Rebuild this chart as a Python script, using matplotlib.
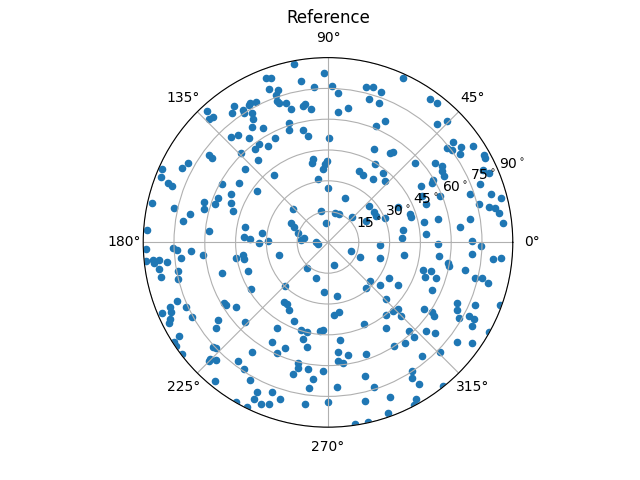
import numpy as np
import matplotlib
matplotlib.use('Agg')
import matplotlib.pyplot as plt
from matplotlib.ticker import FuncFormatter

# Point positions: angle (degrees) and radial distance (degrees)
theta_deg = [110.7, 132.7, 124.4, 132.6, 134.0, 126.4, 122.8, 123.1, 119.3, 117.2,
             120.0, 120.5, 121.4, 123.5, 119.7, 132.7, 129.8, 127.2, 125.2, 128.1,
             134.4, 143.8, 143.9, 130.5, 150.4, 153.0, 138.7, 156.1, 158.6,
             100.8, 91.4, 109.2, 99.5, 95.2, 88.5, 86.2, 111.1, 108.2, 109.5,
             109.9, 109.4, 106.8, 105.5, 100.4, 99.5, 97.3, 76.2, 73.8, 70.5,
             74.0, 69.9, 85.6, 81.5, 108.1, 109.2, 102.6, 100.7, 117.0, 122.0,
             89.4, 67.5, 64.8, 63.7, 55.1, 100.2, 101.5, 90.7, 92.2, 93.9,
             128.9, 99.0, 66.4, 62.4, 58.9, 51.4, 54.5,
             65.4, 54.5, 51.9, 45.5, 47.3, 38.7, 38.5, 36.6, 35.7, 33.9,
             33.7, 29.3, 28.3, 54.2, 42.2, 36.7, 33.7, 32.1, 29.9, 25.1, 23.3, 30.6,
             159.6, 160.1, 151.1, 146.5, 144.3, 153.7, 158.2, 161.4, 162.0, 165.0,
             158.1, 161.9, 167.4, 167.5, 168.4, 171.7, 176.2, 174.7, 169.8, 172.2,
             176.6, 177.8, 180.8, 182.2, 182.2, 182.7, 183.8, 185.9, 186.0, 185.7,
             185.6, 186.6, 185.8, 186.8, 189.3, 188.7, 191.4, 188.8, 191.6, 191.0,
             193.9, 195.8, 199.9, 210.9, 201.1, 210.0,
             46.9, 90.0, 68.9, 136.7, 102.7, 76.4, 68.6, 46.2, 41.3, 33.1,
             28.4, 28.9, 22.8, 96.0, 152.8, 156.2, 163.3, 175.8, 170.5, 179.0,
             180.0, 191.3, 356.7, 194.9, 338.6, 334.9, 342.9, 285.3, 230.0, 251.1,
             330.2, 317.9, 321.1, 310.2, 225.0, 265.3, 279.6, 233.3, 316.0,
             31.1, 29.6, 21.0, 22.5, 26.1, 21.4, 18.8, 16.5, 14.3, 14.2,
             12.3, 11.6, 9.7, 6.2, 26.6, 18.9, 16.8, 11.8, 11.9, 9.3,
             6.5, 9.1, 3.1, 4.7, 0.4, 358.5, 359.0, 355.2, 352.8, 350.3,
             354.4, 355.0, 350.5, 348.8, 344.1, 340.2, 344.3, 341.9, 348.4, 346.5,
             346.8, 345.9, 329.0, 335.5, 334.9, 337.0, 340.1,
             202.2, 203.9, 205.8, 206.9, 203.0, 204.4, 208.6, 214.8, 215.2, 217.4,
             223.6, 212.1, 213.0, 214.4, 222.1, 223.2, 217.2, 235.1, 224.8, 224.5,
             226.3, 232.7, 236.3, 240.3, 230.9, 244.5, 244.6, 247.4, 240.1, 243.7,
             239.8, 274.8, 279.1, 308.9, 246.4, 239.0, 294.0, 252.8, 256.7, 264.8,
             266.7, 304.3, 255.4, 277.1, 240.5, 258.6, 247.7, 245.1, 275.2, 280.1,
             288.9, 274.8, 277.1, 256.0, 256.5, 261.0, 267.8, 255.0, 263.7, 285.5,
             262.5, 273.6, 287.7, 249.4, 252.9, 249.9, 261.9, 270.0, 283.2, 289.4,
             278.5, 282.5,
             316.7, 315.0, 313.7, 325.5, 326.4, 325.2, 332.4, 330.2, 332.5, 332.3,
             329.9, 312.6, 317.8, 319.9, 312.5, 330.9, 322.3, 325.0, 302.6, 307.6,
             315.8, 309.5, 303.3, 301.9, 302.8, 308.6, 291.9, 299.4, 298.0,
             211.5, 236.1]

r_deg = [85.8, 87.2, 80.6, 83.1, 83.7, 78.4, 76.8, 75.3, 78.0, 77.0,
         77.3, 73.2, 70.5, 67.4, 64.2, 69.9, 68.1, 63.9, 58.6, 57.8,
         60.9, 72.1, 69.7, 52.7, 78.2, 79.6, 54.1, 88.3, 87.2,
         88.6, 82.7, 84.9, 79.9, 76.1, 76.3, 73.0, 80.2, 78.3, 76.3,
         73.3, 72.1, 71.0, 67.5, 67.6, 68.4, 65.6, 78.1, 78.9, 77.8,
         72.8, 72.4, 63.8, 66.3, 61.2, 58.0, 56.1, 52.8, 57.1, 55.4,
         50.9, 61.4, 65.4, 50.7, 53.0, 41.2, 39.4, 39.6, 38.2, 35.8,
         42.1, 31.2, 37.9, 37.0, 44.5, 43.2, 37.9,
         88.2, 85.9, 86.4, 83.0, 78.6, 78.3, 73.8, 75.5, 79.5, 77.2,
         84.6, 86.9, 86.7, 54.3, 57.5, 64.7, 67.0, 65.3, 64.9, 83.2, 85.2, 59.6,
         83.0, 80.6, 58.7, 52.2, 42.8, 52.9, 57.9, 58.3, 63.3, 62.3,
         51.1, 48.9, 87.7, 76.7, 68.4, 71.2, 88.2, 58.0, 41.3, 32.6,
         41.2, 38.2, 33.8, 88.6, 75.4, 73.5, 66.7, 71.8, 61.0, 89.0,
         85.5, 85.2, 82.6, 78.8, 45.6, 42.1, 41.9, 83.2, 82.9, 74.2,
         75.1, 53.9, 41.6, 43.9, 78.7, 58.7,
         40.8, 26.4, 23.1, 23.5, 15.5, 14.6, 14.7, 16.9, 26.7, 26.9,
         26.7, 21.2, 30.3, 9.3, 20.3, 18.2, 15.3, 13.2, 11.9, 29.3,
         5.9, 5.0, 25.5, 24.8, 12.1, 17.3, 26.6, 11.2, 16.0, 18.1,
         34.4, 27.7, 32.7, 28.8, 29.7, 24.0, 26.3, 36.0, 39.4,
         53.1, 58.5, 79.1, 58.8, 51.2, 51.0, 72.9, 82.6, 86.8, 75.7,
         80.1, 82.9, 84.4, 85.6, 38.3, 42.4, 42.4, 48.0, 54.5, 69.9,
         64.5, 37.2, 36.2, 48.1, 69.9, 74.4, 53.8, 70.2, 54.7, 37.7,
         80.6, 84.5, 59.5, 60.3, 48.3, 50.4, 52.3, 55.1, 67.9, 73.4,
         76.9, 80.2, 39.9, 55.4, 69.2, 77.6, 89.0,
         82.9, 83.4, 85.3, 86.6, 87.7, 75.7, 75.7, 54.8, 65.3, 68.4,
         56.1, 85.5, 89.5, 89.5, 75.8, 75.1, 89.5, 65.0, 82.0, 80.9,
         79.2, 72.6, 74.1, 77.1, 86.9, 80.7, 84.5, 85.3, 89.5, 89.5,
         37.9, 35.3, 34.2, 45.2, 41.6, 48.5, 43.4, 44.6, 44.7, 43.2,
         42.6, 50.3, 48.5, 47.8, 55.6, 51.9, 55.5, 59.3, 53.5, 55.7,
         57.4, 57.9, 59.2, 60.5, 62.9, 62.4, 62.7, 66.3, 66.9, 67.5,
         71.5, 70.6, 73.9, 77.9, 79.8, 83.9, 79.5, 77.8, 79.4, 88.2,
         89.5, 89.5,
         47.1, 50.5, 46.0, 57.0, 61.0, 62.6, 70.7, 73.8, 77.2, 80.1,
         80.9, 58.5, 64.1, 68.4, 62.3, 89.5, 79.2, 85.4, 59.8, 61.7,
         76.4, 71.6, 74.9, 77.8, 82.1, 89.5, 81.2, 87.6, 89.7,
         58.0, 36.0]

r_ticks = [15, 30, 45, 60, 75, 90]

fig = plt.figure(figsize=(6.4, 4.8), dpi=100)
ax = fig.add_subplot(projection='polar')

ax.scatter(np.radians(theta_deg), r_deg, s=20, color='tab:blue')

ax.set_ylim(0, 90)
ax.set_yticks(r_ticks)
ax.yaxis.set_major_formatter(FuncFormatter(lambda v, pos: f'{v:g}$^\\circ$'))
ax.set_title('Reference')

plt.savefig('out.png')
